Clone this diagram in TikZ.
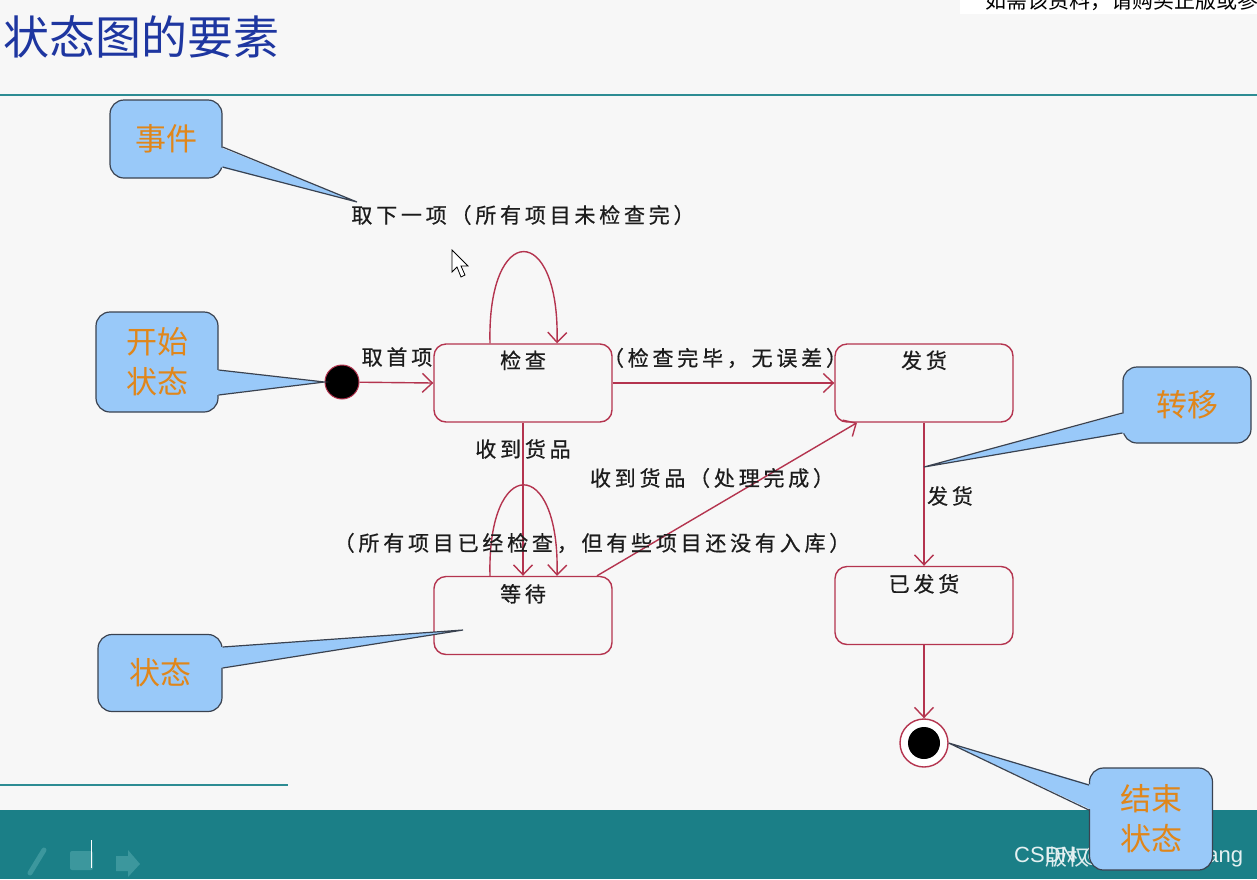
\documentclass[tikz,border=0pt]{standalone}
\usepackage{fontspec}
\setmainfont{Liberation Sans}
\newfontfamily\cjk{Noto Sans CJK SC}
\newfontfamily\cjkls[LetterSpace=18,FakeBold=0.6]{Noto Sans CJK SC}
\usetikzlibrary{arrows.meta,calc}
\definecolor{bgc}{HTML}{F7F7F7}
\definecolor{tealband}{HTML}{1B7F87}
\definecolor{tline}{HTML}{2D8C93}
\definecolor{stc}{HTML}{B4344F}
\definecolor{cfill}{HTML}{99C9F9}
\definecolor{cdraw}{HTML}{3A4250}
\definecolor{corange}{HTML}{E0861A}
\definecolor{ttl}{HTML}{1E36A0}
\definecolor{txt}{HTML}{1C1C1C}
\definecolor{iconc}{HTML}{3C979D}
\newcommand\lblfont{\cjkls\fontsize{21}{25}\selectfont}
\newcommand\callfont{\cjk\fontsize{31}{40}\selectfont}
\tikzset{
  stbox/.style={draw=stc, line width=1.4pt, rounded corners=12pt, minimum width=178pt, minimum height=78pt, inner sep=0pt},
  lbl/.style={font=\lblfont, text=txt, inner sep=0pt},
  conn/.style={draw=stc, line width=1.4pt, -{Straight Barb[length=10pt,width=19pt,line width=1.4pt]}},
  callbox/.style={draw=cdraw, fill=cfill, line width=1.2pt, rounded corners=14pt, inner sep=0pt, font=\callfont, text=corange, align=center},
  callptr/.style={fill=cfill},
  callptrline/.style={draw=cdraw, line width=1.2pt, line join=miter},
}
\begin{document}
\begin{tikzpicture}[x=1pt,y=-1pt]
\useasboundingbox (0,0) rectangle (1257,879);
\fill[bgc] (0,0) rectangle (1257,879);
% top-right notice strip
\fill[white] (960,0) rectangle (1257,14);
\begin{scope}
\clip (960,0) rectangle (1257,14);
\node[font=\cjk\fontsize{21}{24}\selectfont, anchor=west, inner sep=0pt] (notice) at (985,1) {如需该资料，请购买正版或参加};
\end{scope}
% title
\node[font=\cjk\fontsize{46}{52}\selectfont, text=ttl, anchor=west, inner sep=0pt] (title) at (3,37) {状态图的要素};
\draw[tline, line width=2.5pt] (0,95) -- (1257,95);
\draw[tline, line width=1.5pt] (0,785) -- (288,785);
% bottom band
\fill[tealband] (0,810) rectangle (1257,879);
\draw[iconc, line width=5pt, line cap=round] (30,873) -- (44,850);
\fill[iconc, rounded corners=2pt] (70,851) rectangle (93,870);
\fill[iconc] (116,856) -- (128,856) -- (128,850) -- (140,864) -- (128,877) -- (128,871) -- (116,871) -- cycle;
\draw[white, line width=1pt] (91,840) -- (91,868);
\node[font=\cjk\fontsize{22}{24}\selectfont, text=white!85!tealband, anchor=west, inner sep=0pt] (wm2) at (1045,857) {版权};
\node[font=\fontsize{22}{24}\selectfont, text=white!88!tealband, anchor=west, inner sep=0pt] (wm) at (1014,857) {CSDN @Yulong Huang};

% states
\node[stbox] (chk) at (523,383) {};
\node[lbl] (chkl) at ([yshift=-17]chk.north) {检查};
\node[stbox] (ship) at (924,383) {};
\node[lbl] (shipl) at ([yshift=-17]ship.north) {发货};
\node[stbox] (wait) at (523,615.5) {};
\node[lbl] (waitl) at ([yshift=-18]wait.north) {等待};
\node[stbox] (shipped) at (924,605.5) {};
\node[lbl] (shippedl) at ([yshift=-18]shipped.north) {已发货};
\node[circle, fill=black, draw=stc, line width=1pt, minimum size=34pt, inner sep=0pt] (init) at (342,382) {};
\node[circle, fill=white, draw=stc, line width=1.4pt, minimum size=48pt, inner sep=0pt] (fin) at (924,743) {};
\node[circle, fill=black, minimum size=32pt, inner sep=0pt] (finin) at (fin) {};

% transitions
\draw[conn] (init) -- (chk.west);
\draw[conn] ([xshift=-33]chk.north) .. controls +(-3,-122) and +(3,-122) .. ([xshift=34]chk.north);
\draw[conn] (chk.east) -- (ship.west);
\draw[conn] (chk.south) -- (wait.north);
\draw[conn] ([xshift=-33]wait.north) .. controls +(-3,-121) and +(3,-121) .. ([xshift=34]wait.north);
\draw[conn] ([xshift=74]wait.north) -- ([xshift=-67]ship.south);
\draw[conn] (ship.south) -- (shipped.north);
\draw[conn] (shipped.south) -- (fin.north);

% transition labels
\node[lbl] (l1) at (397,357) {取首项};
\node[lbl] (l2) at (523,215) {取下一项（所有项目未检查完）};
\node[lbl] (l3) at (725,358) {（检查完毕，无误差）};
\node[lbl] (l4) at (523,449) {收到货品};
\node[lbl] (l5) at (712,478) {收到货品（处理完成）};
\node[lbl] (l6) at (592,543) {（所有项目已经检查，但有些项目还没有入库）};
\node[lbl] (l7) at (950,496) {发货};

% mouse cursor
\draw[black, fill=white, line width=0.8pt, line join=miter] (452,250) -- (452,272) -- (457,267) -- (461,277) -- (465,275) -- (461,266) -- (468,266) -- cycle;

% tips of callouts
\coordinate (evtip) at (357,202);
\coordinate (satip) at (463,630);
\coordinate (trtip) at (924,467);

% callout: event
\node[callbox, minimum width=112pt, minimum height=78pt] (ev) at (166,139) {事件};
\fill[callptr] ($(ev.east)+(-3,8)$) -- ($(ev.east)+(-3,28)$) -- (evtip) -- cycle;
\draw[callptrline] ($(ev.east)+(0,8)$) -- (evtip) -- ($(ev.east)+(0,28)$);
% callout: start state
\node[callbox, minimum width=122pt, minimum height=100pt] (stc) at (157,362) {开始\\状态};
\fill[callptr] ($(stc.east)+(-3,8)$) -- ($(stc.east)+(-3,33)$) -- (init.west) -- cycle;
\draw[callptrline] ($(stc.east)+(0,8)$) -- (init.west) -- ($(stc.east)+(0,33)$);
% callout: state
\node[callbox, minimum width=124pt, minimum height=77pt] (sa) at (160,673) {状态};
\fill[callptr] ($(sa.east)+(-3,-26)$) -- ($(sa.east)+(-3,-5)$) -- (satip) -- cycle;
\draw[callptrline] ($(sa.east)+(0,-26)$) -- (satip) -- ($(sa.east)+(0,-5)$);
% callout: transition
\node[callbox, minimum width=128pt, minimum height=76pt] (tr) at (1187,405) {转移};
\fill[callptr] ($(tr.west)+(3,8)$) -- ($(tr.west)+(3,28)$) -- (trtip) -- cycle;
\draw[callptrline] ($(tr.west)+(0,8)$) -- (trtip) -- ($(tr.west)+(0,28)$);
% callout: final state
\node[callbox, minimum width=123pt, minimum height=102pt] (en) at (1151,819) {结束\\状态};
\fill[callptr] ($(en.west)+(3,-34)$) -- ($(en.west)+(3,-9)$) -- (fin.east) -- cycle;
\draw[callptrline] ($(en.west)+(0,-34)$) -- (fin.east) -- ($(en.west)+(0,-9)$);
\end{tikzpicture}
\end{document}
